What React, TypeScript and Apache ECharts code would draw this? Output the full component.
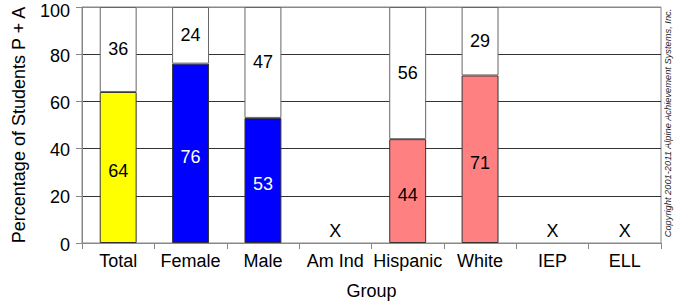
import React, { useEffect, useRef } from "react";
import * as echarts from "echarts";

const categories = ["Total", "Female", "Male", "Am Ind", "Hispanic", "White", "IEP", "ELL"];
const proficient: (number | null)[] = [64, 76, 53, null, 44, 71, null, null];
const notProficient: (number | null)[] = [36, 24, 47, null, 56, 29, null, null];
const barColors = ["#ffff00", "#0000ff", "#0000ff", "#ffffff", "#ff8080", "#ff8080", "#ffffff", "#ffffff"];
const labelColors = ["#000", "#fff", "#fff", "#000", "#000", "#000", "#000", "#000"];
const yTicks = [0, 20, 40, 60, 80, 100];

const FONT = "'Liberation Sans', Arial, sans-serif";
const FS = 18;

export default function App() {
  const ref = useRef<HTMLDivElement>(null);
  useEffect(() => {
    if (!ref.current) return;
    const chart = echarts.init(ref.current, undefined, { renderer: "svg" });
    const yMax = yTicks[yTicks.length - 1];
    const bottomData = proficient.map((v, i) =>
      v == null
        ? {
            value: 0,
            itemStyle: { borderWidth: 0, color: "transparent" },
            label: { show: true, position: "top", distance: 3, formatter: "X", color: "#000" },
          }
        : {
            value: v,
            itemStyle: { color: barColors[i] },
            label: { show: true, position: "inside", offset: [0, 4], color: labelColors[i] },
          }
    );
    const topData = notProficient.map((v) =>
      v == null ? { value: 0, itemStyle: { borderWidth: 0, color: "transparent" }, label: { show: false } } : { value: v }
    );
    chart.setOption({
      animation: false,
      textStyle: { fontFamily: FONT },
      grid: {
        left: 82,
        right: 17,
        top: 7,
        bottom: 58,
        outerBoundsMode: "none",
        containLabel: false,
        show: true,
        borderColor: "#888",
        borderWidth: 1,
      },
      xAxis: {
        type: "category",
        data: categories,
        name: "Group",
        nameLocation: "middle",
        nameGap: 39,
        nameTextStyle: { fontSize: FS, color: "#000", fontFamily: FONT },
        axisLine: { lineStyle: { color: "#888", width: 1 } },
        axisTick: { show: true, length: 6, lineStyle: { color: "#888" } },
        axisLabel: { fontSize: FS, color: "#000", margin: 9, interval: 0, fontFamily: FONT },
      },
      yAxis: {
        type: "value",
        min: yTicks[0],
        max: yMax,
        interval: 20,
        name: "Percentage of Students P + A",
        nameLocation: "middle",
        nameGap: 54,
        nameTextStyle: { fontSize: FS, color: "#000", fontFamily: FONT },
        axisLine: { show: true, lineStyle: { color: "#888", width: 1 } },
        axisTick: { show: true, length: 6, lineStyle: { color: "#888" } },
        axisLabel: {
          fontSize: FS,
          color: "#000",
          margin: 12,
          fontFamily: FONT,
          formatter: (v: number) => (v === yMax ? `{top|${v}}` : `{n|${v}}`),
          rich: {
            top: { fontSize: FS, fontFamily: FONT, color: "#000", padding: [7, 0, 0, 0] },
            n: { fontSize: FS, fontFamily: FONT, color: "#000", padding: [3, 0, 0, 0] },
          },
        },
        splitLine: {
          show: true,
          lineStyle: { color: ["#888", "#333", "#333", "#333", "#333", "#888"], width: 1 },
        },
      },
      series: [
        {
          type: "bar",
          stack: "a",
          barWidth: "51%",
          data: bottomData,
          itemStyle: { borderColor: "#333", borderWidth: 1 },
          label: { fontSize: FS, fontFamily: FONT },
        },
        {
          type: "bar",
          stack: "a",
          barWidth: "51%",
          data: topData,
          itemStyle: { color: "#fff", borderColor: "#666", borderWidth: 1 },
          label: { show: true, position: "inside", color: "#000", fontSize: FS, fontFamily: FONT },
        },
      ],
      graphic: [
        {
          type: "text",
          x: 668,
          y: 123,
          rotation: Math.PI / 2,
          style: {
            text: "Copyright 2001-2011 Alpine Achievement Systems, Inc.",
            fontSize: 9.3,
            fontStyle: "italic",
            fontFamily: FONT,
            fill: "#222",
            align: "center",
            verticalAlign: "middle",
          },
        },
      ],
    });
    return () => chart.dispose();
  }, []);
  return <div ref={ref} style={{ width: 678, height: 301, position: "absolute", left: 0, top: 0 }} />;
}
